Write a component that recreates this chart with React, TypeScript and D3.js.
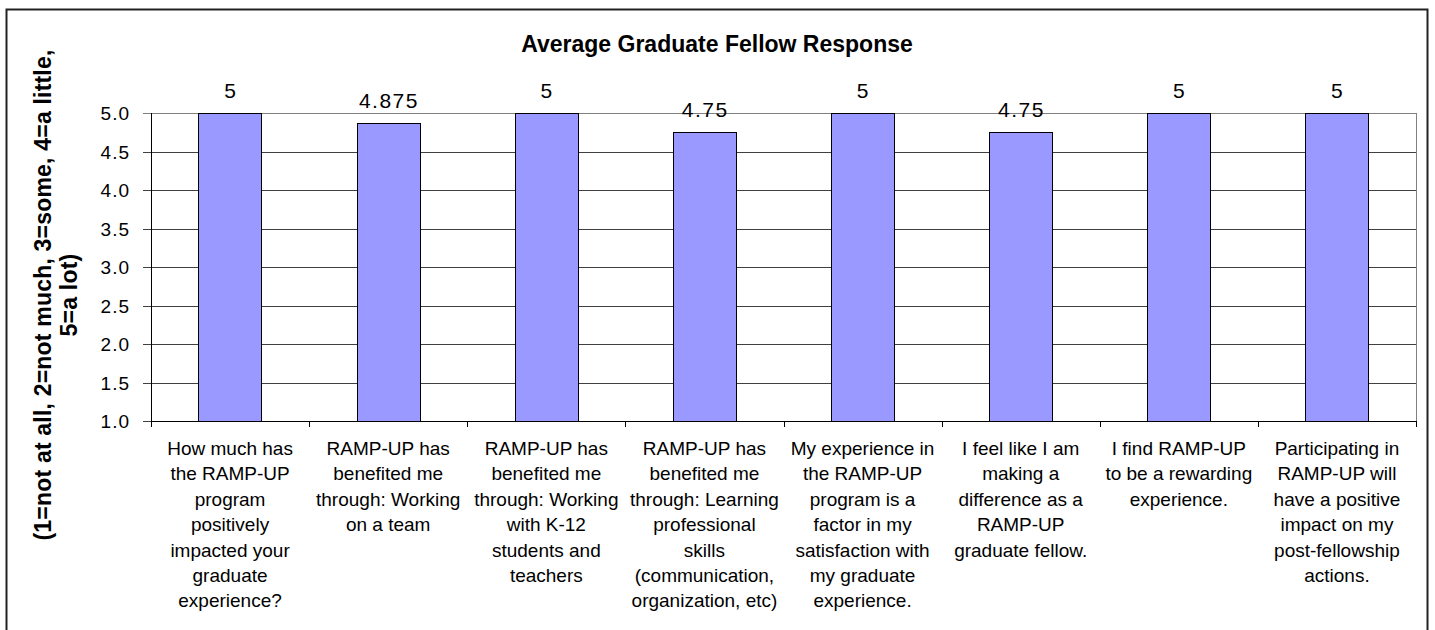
import React from "react";
import * as d3 from "d3";

const categories: string[][] = [
  ["How much has", "the RAMP-UP", "program", "positively", "impacted your", "graduate", "experience?"],
  ["RAMP-UP has", "benefited me", "through: Working", "on a team"],
  ["RAMP-UP has", "benefited me", "through: Working", "with K-12", "students and", "teachers"],
  ["RAMP-UP has", "benefited me", "through: Learning", "professional", "skills", "(communication,", "organization, etc)"],
  ["My experience in", "the RAMP-UP", "program is a", "factor in my", "satisfaction with", "my graduate", "experience."],
  ["I feel like I am", "making a", "difference as a", "RAMP-UP", "graduate fellow."],
  ["I find RAMP-UP", "to be a rewarding", "experience."],
  ["Participating in", "RAMP-UP will", "have a positive", "impact on my", "post-fellowship", "actions."],
];
const values: number[] = [5, 4.875, 5, 4.75, 5, 4.75, 5, 5];
const valueLabels: string[] = ["5", "4.875", "5", "4.75", "5", "4.75", "5", "5"];
const yTicks: number[] = [1.0, 1.5, 2.0, 2.5, 3.0, 3.5, 4.0, 4.5, 5.0];
const title = "Average Graduate Fellow Response";
const yTitleLines: string[] = ["(1=not at all, 2=not much, 3=some, 4=a little,", "5=a lot)"];

const W = 1435;
const H = 630;
const plot = { left: 151, right: 1416, top: 113, bottom: 421 };
const FONT = "Arial, 'Liberation Sans', sans-serif";

export default function App() {
  const idx = categories.map((_, i) => String(i));
  const x = d3.scaleBand<string>().domain(idx).range([plot.left, plot.right]).paddingInner(0.6).paddingOuter(0.3);
  const xb = d3.scaleBand<string>().domain(idx).range([plot.left, plot.right]);
  const y = d3.scaleLinear().domain([1, 5]).range([plot.bottom, plot.top]);
  const bounds = d3.range(categories.length + 1).map((i) => plot.left + i * xb.step());

  return (
    <svg width={W} height={H} style={{ position: "absolute", left: 0, top: 0, background: "#fff" }} fontFamily={FONT}>
      <rect x={0} y={0} width={W} height={H} fill="#fff" />
      <rect x={6.5} y={9.5} width={1421} height={640} fill="none" stroke="#222" strokeWidth={2} />
      <text x={717} y={52} textAnchor="middle" fontSize={23} fontWeight="bold">
        {title}
      </text>
      {/* y axis title */}
      <g transform={`translate(51,295) rotate(-90)`}>
        {yTitleLines.map((t, i) => (
          <text key={i} x={0} y={i * 26} textAnchor="middle" fontSize={23} fontWeight="bold" letterSpacing={0.2}>
            {t}
          </text>
        ))}
      </g>
      {/* gridlines */}
      {yTicks.map((t) => (
        <line key={t} x1={plot.left - 8} x2={plot.right} y1={Math.round(y(t)) + 0.5} y2={Math.round(y(t)) + 0.5}
          stroke={t === 5 ? "#808080" : "#404040"} strokeWidth={1} />
      ))}
      <line x1={plot.right + 0.5} x2={plot.right + 0.5} y1={plot.top} y2={plot.bottom} stroke="#808080" />
      <line x1={plot.left + 0.5} x2={plot.left + 0.5} y1={plot.top} y2={plot.bottom + 6} stroke="#000" />
      <line x1={plot.left} x2={plot.right} y1={plot.bottom + 0.5} y2={plot.bottom + 0.5} stroke="#000" />
      {bounds.map((b, i) => (
        <line key={i} x1={Math.round(b) + 0.5} x2={Math.round(b) + 0.5} y1={plot.bottom} y2={plot.bottom + 6} stroke="#000" />
      ))}
      {yTicks.map((t) => (
        <text key={t} x={130} y={y(t) + 7} textAnchor="end" fontSize={19} letterSpacing={1}>
          {t.toFixed(1)}
        </text>
      ))}
      {values.map((v, i) => (
        <rect key={i} x={Math.round(x(String(i))!) + 0.5} y={Math.round(y(v)) + 0.5} width={Math.round(x.bandwidth())}
          height={Math.round(y(1)) - Math.round(y(v))} fill="#9999FF" stroke="#000" strokeWidth={1} />
      ))}
      {values.map((v, i) => (
        <text key={i} x={x(String(i))! + x.bandwidth() / 2 + 0.75} y={y(v) - 15} textAnchor="middle" fontSize={21} letterSpacing={1.5}>
          {valueLabels[i]}
        </text>
      ))}
      {categories.map((lines, i) => (
        <text key={i} textAnchor="middle" fontSize={19}>
          {lines.map((l, j) => (
            <tspan key={j} x={xb(String(i))! + xb.bandwidth() / 2} y={455 + j * 25.4}>
              {l}
            </tspan>
          ))}
        </text>
      ))}
    </svg>
  );
}
